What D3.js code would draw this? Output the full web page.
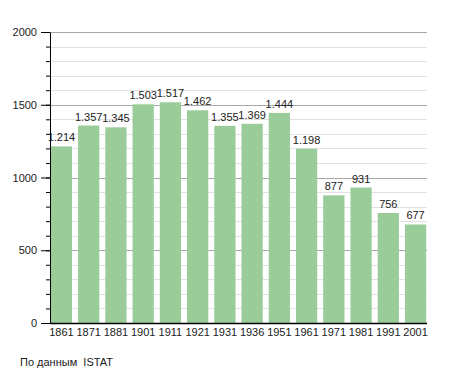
<!DOCTYPE html>
<html lang="en">
<head>
    <meta charset="UTF-8">
    <title>Population</title>
    <style>
        body, html {
            margin: 0;
            padding: 0;
            background: #ffffff;
            font-family: 'Liberation Sans', Arial, sans-serif;
        }
        svg { display: block; }
        .grid-minor line { stroke: #e2e2e2; stroke-width: 1px; }
        .grid-major line { stroke: #a8a8a8; stroke-width: 1px; }
        .label { font-size: 11px; fill: #222; }
        .source { white-space: pre; }
    </style>
</head>
<body>
    <svg width="455" height="373"></svg>

    <script src="https://d3js.org/d3.v7.min.js"></script>
    <script>
        // Census years and population
        const years = ["1861", "1871", "1881", "1901", "1911", "1921", "1931", "1936", "1951", "1961", "1971", "1981", "1991", "2001"];
        const population = [1214, 1357, 1345, 1503, 1517, 1462, 1355, 1369, 1444, 1198, 877, 931, 756, 677];
        const majorTicks = [0, 500, 1000, 1500, 2000];
        const minorTicks = d3.range(0, 2001, 100);
        const source = "По данным  ISTAT";

        const svg = d3.select("svg");
        const plotLeft = 50, plotRight = 427, plotTop = 32, plotBottom = 323;

        const x = d3.scaleBand()
            .domain(years)
            .range([plotLeft, plotRight])
            .paddingInner(0.22)
            .paddingOuter(0.03);

        const y = d3.scaleLinear()
            .domain([0, 2000])
            .range([plotBottom, plotTop]);

        // minor gridlines
        svg.append("g").attr("class", "grid-minor")
            .selectAll("line")
            .data(minorTicks.filter(d => d % 500 !== 0))
            .enter().append("line")
            .attr("x1", plotLeft).attr("x2", plotRight)
            .attr("y1", d => Math.round(y(d)) + 0.5)
            .attr("y2", d => Math.round(y(d)) + 0.5);

        // major gridlines
        svg.append("g").attr("class", "grid-major")
            .selectAll("line")
            .data(majorTicks.filter(d => d > 0))
            .enter().append("line")
            .attr("x1", plotLeft).attr("x2", plotRight)
            .attr("y1", d => Math.round(y(d)) + 0.5)
            .attr("y2", d => Math.round(y(d)) + 0.5);

        // bars
        svg.append("g")
            .selectAll("rect")
            .data(population)
            .enter().append("rect")
            .attr("x", (d, i) => x(years[i]))
            .attr("width", x.bandwidth())
            .attr("y", d => y(d))
            .attr("height", d => plotBottom - y(d))
            .attr("fill", "#99cc99");

        // value labels
        const fmt = d3.formatLocale({ decimal: ",", thousands: ".", grouping: [3], currency: ["", ""] }).format(",");
        svg.append("g")
            .selectAll("text")
            .data(population)
            .enter().append("text")
            .attr("class", "label")
            .attr("x", (d, i) => x(years[i]) + x.bandwidth() / 2)
            .attr("y", d => y(d) - 5)
            .attr("text-anchor", "middle")
            .text(d => fmt(d));

        // minor ticks on y axis
        svg.append("g")
            .attr("transform", `translate(${plotLeft},0)`)
            .call(d3.axisLeft(y).tickValues(minorTicks).tickSize(4).tickFormat(""))
            .call(g => g.select(".domain").remove())
            .call(g => g.selectAll("line").attr("stroke", "#000"));

        // y axis
        svg.append("g")
            .attr("transform", `translate(${plotLeft},0)`)
            .call(d3.axisLeft(y).tickValues(majorTicks).tickSize(9).tickSizeOuter(0).tickPadding(4).tickFormat(d3.format("d")))
            .call(g => g.select(".domain").attr("stroke", "#000"))
            .call(g => g.selectAll("text").attr("font-size", 11).attr("font-family", "'Liberation Sans', Arial, sans-serif").attr("fill", "#222"));

        // x axis
        svg.append("g")
            .attr("transform", `translate(0,${plotBottom})`)
            .call(d3.axisBottom(x).tickSize(0).tickSizeOuter(0).tickPadding(5))
            .call(g => g.select(".domain").attr("stroke", "#000").attr("stroke-width", 1.5).attr("d", `M${plotLeft},0.5H${plotRight}`))
            .call(g => g.selectAll("text").attr("font-size", 11).attr("font-family", "'Liberation Sans', Arial, sans-serif").attr("fill", "#222"));

        svg.append("text")
            .attr("class", "label source")
            .attr("x", 20)
            .attr("y", 366)
            .text(source);
    </script>
</body>
</html>
